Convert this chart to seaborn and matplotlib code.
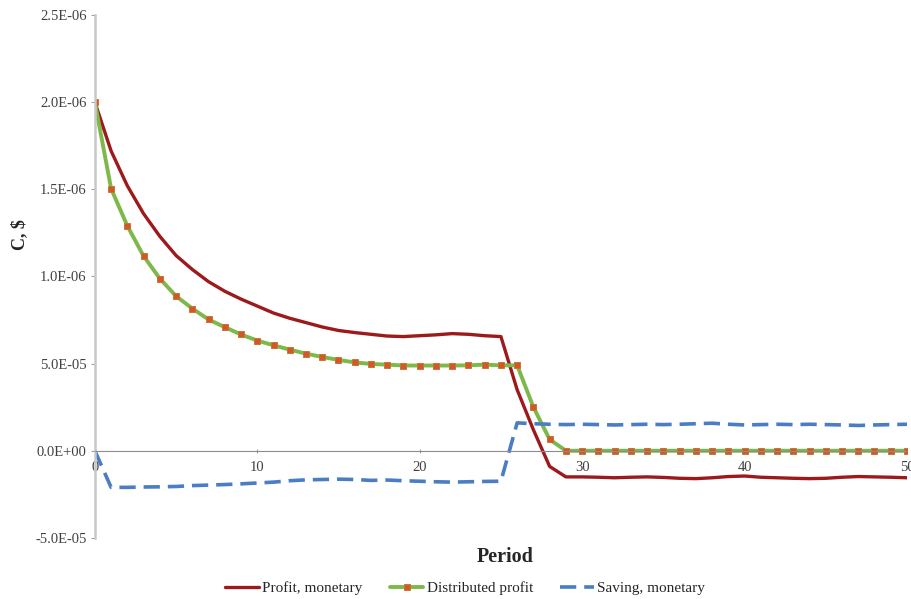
import matplotlib
matplotlib.use("Agg")
import matplotlib.pyplot as plt
import seaborn as sns
import pandas as pd

# values, in units of 1e-6
periods = list(range(0, 51))

profit_monetary = [2.0, 1.72, 1.52, 1.36, 1.23, 1.12, 1.04, 0.97, 0.915, 0.87,
                   0.83, 0.79, 0.76, 0.735, 0.71, 0.69, 0.678, 0.668, 0.658, 0.655,
                   0.66, 0.665, 0.672, 0.668, 0.66, 0.655, 0.35, 0.12, -0.09, -0.15,
                   -0.15, -0.152, -0.155, -0.152, -0.15, -0.153, -0.158, -0.16, -0.155, -0.148,
                   -0.145, -0.152, -0.155, -0.158, -0.16, -0.158, -0.152, -0.148, -0.15, -0.152,
                   -0.155]

distributed_profit = [2.0, 1.504, 1.29, 1.117, 0.988, 0.887, 0.816, 0.753, 0.709, 0.667,
                      0.632, 0.605, 0.58, 0.557, 0.538, 0.521, 0.507, 0.498, 0.494, 0.489,
                      0.489, 0.489, 0.489, 0.49, 0.494, 0.49, 0.49, 0.25, 0.065, 0.0,
                      0.0, 0.0, 0.0, 0.0, 0.0, 0.0, 0.0, 0.0, 0.0, 0.0,
                      0.0, 0.0, 0.0, 0.0, 0.0, 0.0, 0.0, 0.0, 0.0, 0.0,
                      0.0]

saving_monetary = [0.0, -0.21, -0.21, -0.208, -0.207, -0.205, -0.2, -0.197, -0.194, -0.19,
                   -0.185, -0.18, -0.172, -0.167, -0.165, -0.163, -0.165, -0.17, -0.168, -0.172,
                   -0.175, -0.178, -0.18, -0.178, -0.176, -0.175, 0.16, 0.155, 0.152, 0.15,
                   0.152, 0.15, 0.148, 0.15, 0.152, 0.15, 0.152, 0.155, 0.158, 0.152,
                   0.148, 0.15, 0.152, 0.15, 0.152, 0.15, 0.148, 0.145, 0.148, 0.15,
                   0.152]

ytick_vals = [-0.5, 0.0, 0.5, 1.0, 1.5, 2.0, 2.5]
ytick_labels = ["-5.0E-05", "0.0E+00", "5.0E-05", "1.0E-06", "1.5E-06", "2.0E-06", "2.5E-06"]
xtick_vals = [0, 10, 20, 30, 40, 50]

scale = 1e-6
df = pd.DataFrame({
    "Period": periods,
    "Profit, monetary": [v * scale for v in profit_monetary],
    "Distributed profit": [v * scale for v in distributed_profit],
    "Saving, monetary": [v * scale for v in saving_monetary],
})

sns.set_style("white")
plt.rcParams['font.family'] = ['Liberation Serif', 'DejaVu Serif']

fig = plt.figure(figsize=(9.12, 5.99), dpi=100)
ax = fig.add_axes([0.104, 0.102, 0.8905, 0.873])

sns.lineplot(data=df, x="Period", y="Profit, monetary", ax=ax, color="#9C1A1C",
             linewidth=2.4, label="Profit, monetary")
sns.lineplot(data=df, x="Period", y="Distributed profit", ax=ax, color="#7DB84A",
             linewidth=2.8, marker="s", markersize=5, markerfacecolor="#D4562A",
             markeredgecolor="#C07A30", markeredgewidth=0.7, label="Distributed profit")
sns.lineplot(data=df, x="Period", y="Saving, monetary", ax=ax, color="#4A7DC4",
             linewidth=2.6, dashes=(4.5, 2.2), label="Saving, monetary")

ax.set_xlim(0, 50)
ax.set_ylim(-0.5 * scale, 2.5 * scale)
ax.set_yticks([v * scale for v in ytick_vals])
ax.set_yticklabels(ytick_labels)
ax.set_xticks(xtick_vals)

sns.despine(ax=ax, top=True, right=True)
ax.spines['bottom'].set_position(('data', 0))
ax.spines['bottom'].set_color("#8C8C8C")
ax.spines['bottom'].set_linewidth(0.8)
ax.spines['left'].set_color("#C8C8C8")
ax.spines['left'].set_linewidth(1.8)
ax.tick_params(axis='y', which='both', left=True, length=3, width=0.8, color="#A0A0A0",
               labelsize=10.5, pad=3, labelcolor="#404040")
ax.tick_params(axis='x', which='both', bottom=True, length=3, width=0.8, color="#A0A0A0",
               labelsize=10.5, pad=6, labelcolor="#404040", direction='inout')

ax.set_xlabel("Period", fontsize=14.5, fontweight='bold')
ax.xaxis.set_label_coords(0.505, -0.017)
ax.set_ylabel("C, $", fontsize=13, fontweight='bold')
ax.yaxis.set_label_coords(-0.082, 0.58)

ax.get_legend().remove()
handles, labels = ax.get_legend_handles_labels()
fig.legend(handles, labels, loc='center', bbox_to_anchor=(0.51, 0.018), ncol=3,
           frameon=False, fontsize=11, handlelength=2.2, handletextpad=0.2,
           columnspacing=1.8)

plt.savefig("out.png", dpi=100)
